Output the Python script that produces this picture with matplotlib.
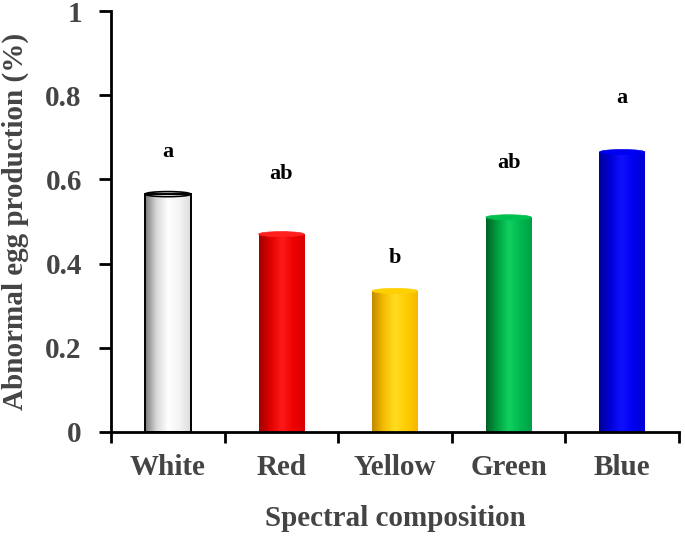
import numpy as np
import matplotlib
matplotlib.use("Agg")
import matplotlib.pyplot as plt
from matplotlib.colors import LinearSegmentedColormap
from matplotlib.patches import Ellipse

categories = ["White", "Red", "Yellow", "Green", "Blue"]
values = [0.565, 0.47, 0.335, 0.51, 0.665]
letters = ["a", "ab", "b", "ab", "a"]
letter_y = [0.664, 0.612, 0.414, 0.640, 0.793]
yticks = [0, 0.2, 0.4, 0.6, 0.8, 1]
ytick_labels = ["0", "0.2", "0.4", "0.6", "0.8", "1"]

# gradient stops (left edge -> highlight -> right edge) for the cylinder look
shades = [
    ["#7a7a7a", "#d8d8d8", "#ffffff", "#f4f4f4", "#dcdcdc"],
    ["#a00000", "#e00000", "#ff1a1a", "#f00000", "#d80000"],
    ["#c08800", "#f4bc00", "#ffdc20", "#ffcc00", "#f4b800"],
    ["#006024", "#00a040", "#10d060", "#00b850", "#00a044"],
    ["#000098", "#0000d8", "#1010ff", "#0000f0", "#0000d0"],
]
cap_colors = ["#ffffff", "#ff2020", "#ffd000", "#00c050", "#0000f0"]

plt.rcParams["font.family"] = ["Liberation Serif", "DejaVu Serif"]
plt.rcParams["font.weight"] = "bold"
gray = "#444444"

fig = plt.figure(figsize=(6.85, 5.36), dpi=100)
ax = fig.add_axes([111 / 685, 1 - 432 / 536, (679 - 111) / 685, (432 - 11) / 536])

x = np.arange(len(categories))
width = 0.40
bars = ax.bar(x, values, width=width, color="none", edgecolor="none", zorder=2)

grad = np.linspace(0, 1, 256)[None, :]
for i, b in enumerate(bars):
    cmap = LinearSegmentedColormap.from_list(f"c{i}", shades[i])
    x0 = b.get_x()
    w = b.get_width()
    h = b.get_height()
    im = ax.imshow(grad, extent=[x0, x0 + w, 0, h], aspect="auto", cmap=cmap,
                   zorder=2, interpolation="bilinear")
    im.set_clip_path(b)
    cap = Ellipse((x0 + w / 2, h), w, 0.012, facecolor=cap_colors[i],
                  edgecolor="black" if i == 0 else cap_colors[i], lw=1.2 if i == 0 else 0.5,
                  zorder=3)
    ax.add_patch(cap)
    if i == 0:
        b.set_edgecolor("black")
        b.set_linewidth(1.4)
        b.set_zorder(4)

for xi, lt, ly in zip(x, letters, letter_y):
    ax.text(xi, ly, lt, ha="center", va="center", fontsize=16, fontweight="bold",
            color="black")

ax.set_xlim(-0.5, len(categories) - 0.5)
ax.set_ylim(0, 1)

ax.spines["top"].set_visible(False)
ax.spines["right"].set_visible(False)
for s in ("left", "bottom"):
    ax.spines[s].set_linewidth(2)
    ax.spines[s].set_color("black")

ax.set_yticks(yticks)
ax.set_yticklabels(ytick_labels, fontsize=21, fontweight="bold", color=gray)
ax.tick_params(axis="y", direction="out", length=9, width=2, pad=12, color="black")

ax.set_xticks(x)
ax.set_xticklabels(categories, fontsize=21, fontweight="bold", color=gray)
ax.set_xticks(np.arange(-0.5, len(categories)), minor=True)
ax.tick_params(axis="x", which="major", length=0, pad=16)
ax.tick_params(axis="x", which="minor", direction="out", length=8, width=2, color="black")

ax.set_xlabel("Spectral composition", fontsize=21, fontweight="bold", color=gray,
              labelpad=17)
ax.set_ylabel("Abnormal egg production (%)", fontsize=21, fontweight="bold", color=gray,
              labelpad=12)

fig.savefig("out.png", dpi=100)
